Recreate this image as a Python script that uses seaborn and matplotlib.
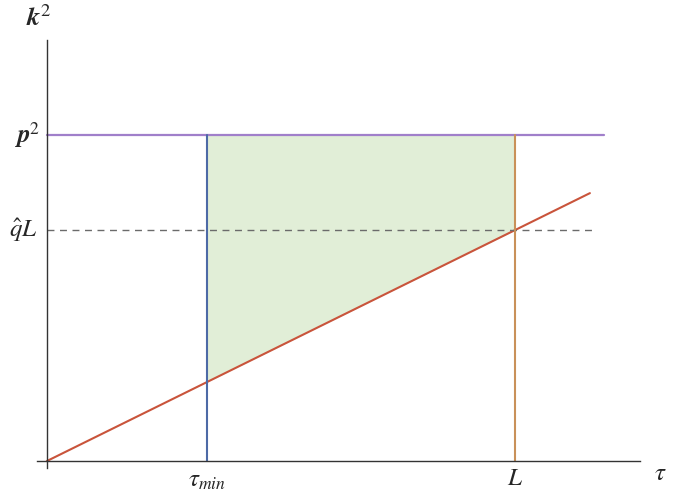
import numpy as np
import pandas as pd
import seaborn as sns
import matplotlib.pyplot as plt

# chart values (tau in units of L, k^2 in units of q_hat*L)
tau_min = 0.342
L = 1.0
q_hat = 1.0
p2 = 1.411
tau_end = 1.160       # end of the red line
p2_end = 1.190        # end of the purple line
qL_end = 1.171        # end of the dashed line
x_lim = (-0.021, 1.267)
y_lim = (-0.030, 1.823)

sns.set_style('white')
plt.rcParams['mathtext.fontset'] = 'stix'
plt.rcParams['font.family'] = ['STIXGeneral', 'DejaVu Serif']

fig = plt.figure(figsize=(6.78, 4.91), dpi=100)
ax = fig.add_axes([37 / 678, 23 / 491, 603 / 678, 428 / 491])

# red line k^2 = q_hat * tau
line = pd.DataFrame({'tau': [0, tau_end], 'k2': [0, q_hat * tau_end]})
sns.lineplot(data=line, x='tau', y='k2', color='#c9543b', lw=1.5, ax=ax)

# purple p^2 level
sns.lineplot(x=[0, p2_end], y=[p2, p2], color='#a07fca', lw=1.6, ax=ax)

# dashed q_hat L level
ax.plot([0, qL_end], [q_hat * L, q_hat * L], color='#6b6b6b', lw=1.0, ls=(0, (5, 4)))

# vertical lines at tau_min and L
ax.plot([tau_min, tau_min], [0, p2], color='#4d6aa6', lw=1.5)
ax.plot([L, L], [0, p2], color='#c99159', lw=1.5)

# shaded region between red line and p^2
xs = np.array([tau_min, L])
ax.fill_between(xs, q_hat * xs, p2, color='#e1eed7', lw=0, zorder=0)

ax.set_xlim(*x_lim)
ax.set_ylim(*y_lim)
for s in ['top', 'right']:
    ax.spines[s].set_visible(False)
ax.spines['left'].set_position(('data', 0))
ax.spines['bottom'].set_position(('data', 0))
for s in ['left', 'bottom']:
    ax.spines[s].set_color('#333333')
    ax.spines[s].set_linewidth(1.0)
ax.set_xticks([])
ax.set_yticks([])
ax.set_xlabel('')
ax.set_ylabel('')

# labels
fs = 18
ax.text(-0.017, 1.915, r'$\mathbfit{k}^2$', ha='center', va='center', fontsize=19, clip_on=False)
ax.text(-0.015, p2, r'$\mathbfit{p}^2$', ha='right', va='center', fontsize=fs, clip_on=False)
ax.text(-0.019, q_hat * L, r'$\hat{q}L$', ha='right', va='center', fontsize=fs, clip_on=False)
ax.text(tau_min, -0.083, r'$\tau_{min}$', ha='center', va='center', fontsize=fs, clip_on=False)
ax.text(L, -0.076, r'$L$', ha='center', va='center', fontsize=fs, clip_on=False)
ax.text(1.31, -0.054, r'$\tau$', ha='center', va='center', fontsize=fs, clip_on=False)

fig.savefig('out.png', dpi=100)
